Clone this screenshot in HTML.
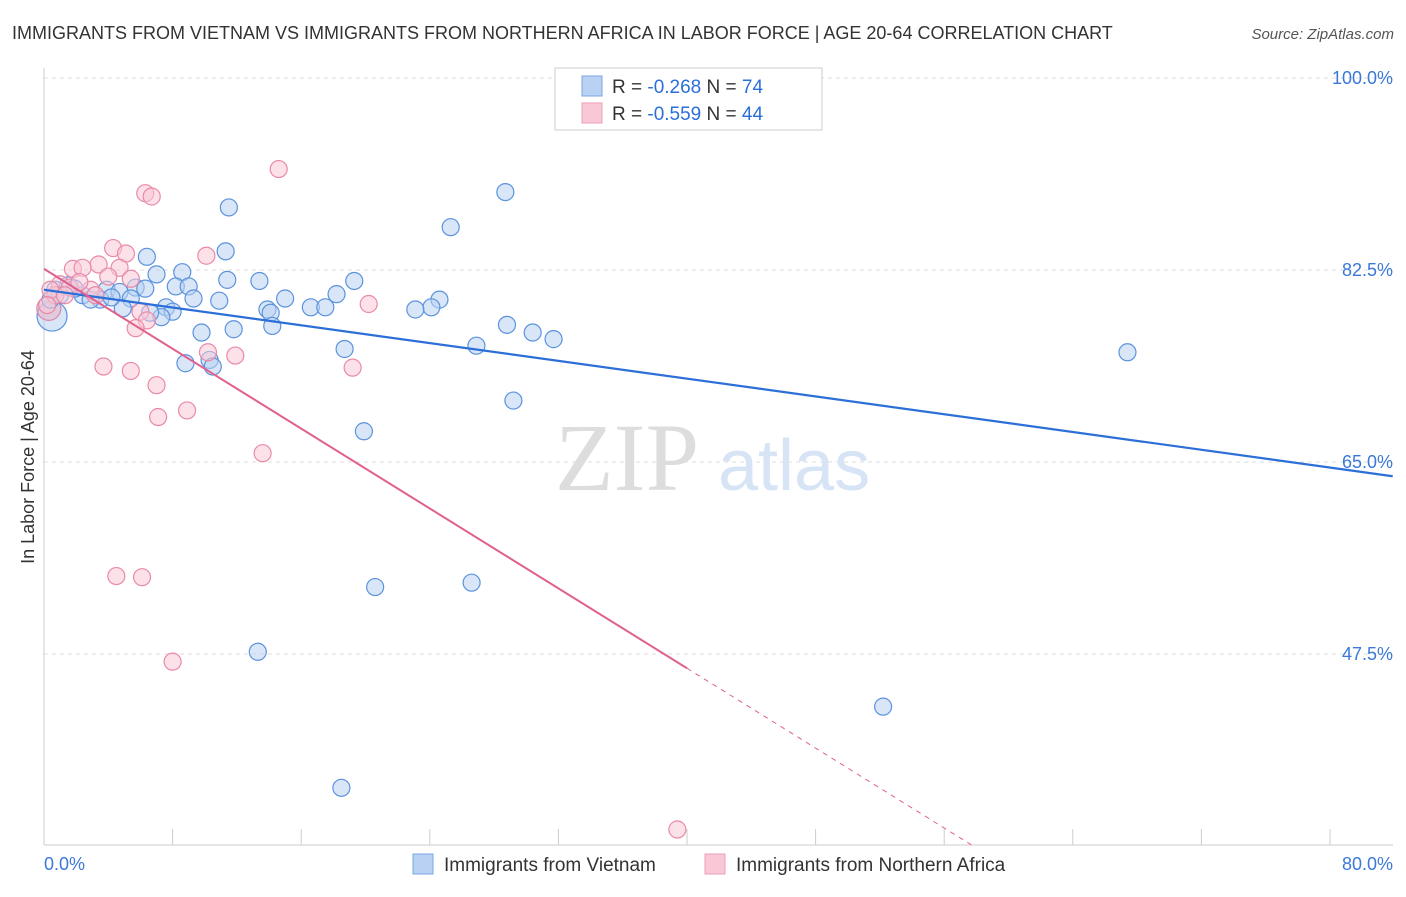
<!DOCTYPE html>
<html><head><meta charset="utf-8"><style>
body{margin:0;background:#fff;font-family:"Liberation Sans",sans-serif;}
svg text{font-family:"Liberation Sans",sans-serif;}
</style></head><body>
<svg width="1406" height="892" viewBox="0 0 1406 892">
<text x="12" y="39" font-size="18" fill="#333">IMMIGRANTS FROM VIETNAM VS IMMIGRANTS FROM NORTHERN AFRICA IN LABOR FORCE | AGE 20-64 CORRELATION CHART</text>
<text x="1394" y="39" font-size="15" fill="#555" text-anchor="end" font-style="italic">Source: ZipAtlas.com</text>
<g id="grid"></g>
<text x="555" y="490" font-size="96" fill="#ddd" font-family="Liberation Serif" style="font-family:'Liberation Serif',serif">ZIP</text>
<text x="718" y="490" font-size="72" fill="#d6e4f5">atlas</text>
<g id="axes"></g>
<g id="pts"></g>
<g id="trends"></g>
<text transform="translate(34,457) rotate(-90)" font-size="18" fill="#333" text-anchor="middle">In Labor Force | Age 20-64</text>
<g>
<rect x="555" y="68" width="267" height="62" fill="#fff" stroke="#ccc"/>
<rect x="582" y="76" width="20" height="20" fill="#b9d2f3" stroke="#7aa6e0"/>
<rect x="582" y="103" width="20" height="20" fill="#f9c8d6" stroke="#eba0b6"/>
<text x="612" y="93" font-size="19" fill="#333">R = <tspan fill="#2c6fd8">-0.268</tspan>   N = <tspan fill="#2c6fd8">74</tspan></text>
<text x="612" y="120" font-size="19" fill="#333">R = <tspan fill="#2c6fd8">-0.559</tspan>   N = <tspan fill="#2c6fd8">44</tspan></text>
</g>
<g>
<rect x="413" y="854" width="20" height="20" fill="#b9d2f3" stroke="#7aa6e0"/>
<text x="444" y="871" font-size="19" fill="#333">Immigrants from Vietnam</text>
<rect x="705" y="854" width="20" height="20" fill="#f9c8d6" stroke="#eba0b6"/>
<text x="736" y="871" font-size="19" fill="#333">Immigrants from Northern Africa</text>
</g>
</svg>
<script>
const xTicks=[0,8,16,24,32,40,48,56,64,72,80];
const yTicks=[47.5,65,82.5,100];
const yTickLabels=["47.5%","65.0%","82.5%","100.0%"];
const xEndLabels=["0.0%","80.0%"];
const vietX=[43.2,28.7,11.5,25.3,11.3,6.4,8.6,7.0,13.4,11.4,19.3,8.2,9.0,5.7,6.3,3.9,4.7,5.4,2.4,1.5,0.7,3.5,1.9,9.3,10.9,15.0,18.2,16.6,17.5,24.6,24.1,23.1,13.9,14.1,7.6,8.0,7.3,4.9,6.6,9.8,11.8,14.2,28.8,30.4,31.7,26.9,18.7,8.8,10.3,10.5,29.2,19.9,67.4,20.6,26.6,13.3,52.2,18.5,0.4,1.0,2.9,4.2];
const vietY=[99.8,89.6,88.2,86.4,84.2,83.7,82.3,82.1,81.5,81.6,81.5,81.0,81.0,80.9,80.8,80.7,80.5,79.9,80.2,81.1,80.7,79.8,80.8,79.9,79.7,79.9,80.3,79.1,79.1,79.8,79.1,78.9,78.9,78.6,79.1,78.7,78.2,79.0,78.6,76.8,77.1,77.4,77.5,76.8,76.2,75.6,75.3,74.0,74.3,73.7,70.6,67.8,75.0,53.6,54.0,47.7,42.7,35.3,79.8,80.2,79.8,80.0];
const nafX=[14.6,6.3,6.7,10.1,4.3,5.1,1.8,3.4,2.4,4.7,4.0,5.4,1.0,1.6,2.9,3.2,0.7,0.4,6.0,6.4,5.7,20.2,10.2,11.9,3.7,5.4,19.2,7.0,8.9,7.1,13.6,4.5,6.1,8.0,39.4,0.2,2.2,1.3];
const nafY=[91.7,89.5,89.2,83.8,84.5,84.0,82.6,83.0,82.7,82.7,81.9,81.7,81.2,80.9,80.7,80.2,80.2,80.7,78.7,77.9,77.2,79.4,75.0,74.7,73.7,73.3,73.6,72.0,69.7,69.1,65.8,54.6,54.5,46.8,31.5,79.3,81.4,80.2];
const bigX=[0.5,0.3], bigY=[78.3,79.0]; // large bubbles (vietnam, nafrica)
const vietTrend=[80.7,-0.2026], nafTrend=[82.6,-0.91];
const NS="http://www.w3.org/2000/svg";
const X=v=>44+v*16.075, Y=v=>78+(100-v)*10.971;
function mk(tag,attrs,parent){const e=document.createElementNS(NS,tag);for(const k in attrs)e.setAttribute(k,attrs[k]);parent.appendChild(e);return e;}
const grid=document.getElementById('grid'),axes=document.getElementById('axes'),pts=document.getElementById('pts'),tr=document.getElementById('trends');
yTicks.forEach((t,i)=>{
 const l=mk('line',{x1:44,x2:1393,y1:Y(t),y2:Y(t),stroke:'#ddd','stroke-dasharray':'4,4'},grid);
 
 
 const tx=mk('text',{x:1393,y:Y(t)+6,'font-size':18,fill:'#3b78d8','text-anchor':'end'},axes);
 tx.textContent=yTickLabels[i];
 
 
});
let a=mk('line',{x1:44,x2:44,y1:68,y2:845,stroke:'#ccc'},axes);


a=mk('line',{x1:44,x2:1393,y1:845,y2:845,stroke:'#ccc'},axes);


xTicks.forEach(t=>{const l=mk('line',{x1:X(t),x2:X(t),y1:829,y2:845,stroke:'#ccc'},axes);
 
 });
[[0,'start'],[80,'end']].forEach((p,i)=>{const tx=mk('text',{x:i?X(80)+63:X(0),y:870,'font-size':18,fill:'#3b78d8','text-anchor':p[1]},axes);tx.textContent=xEndLabels[i];
 
 });
function dot(x,y,r,fill,stroke,name){const c=mk('circle',{cx:X(x),cy:Y(y),r:r,fill:fill,'fill-opacity':0.55,stroke:stroke,'stroke-width':1.2},pts);
 
 }
dot(bigX[0],bigY[0],15,'#b9d2f3','#5b93dd','point-vietnam');
dot(bigX[1],bigY[1],12,'#e9b3c8','#d98aa8','point-nafrica');
vietX.forEach((x,i)=>dot(x,vietY[i],8.5,'#b9d2f3','#5b93dd','point-vietnam'));
nafX.forEach((x,i)=>dot(x,nafY[i],8.5,'#f9c8d6','#e98aa8','point-nafrica'));
let t=mk('line',{x1:X(0),y1:Y(vietTrend[0]),x2:X(83.9),y2:Y(vietTrend[0]+vietTrend[1]*83.9),stroke:'#2c6fd8','stroke-width':2.2},tr);


t=mk('line',{x1:X(0),y1:Y(nafTrend[0]),x2:X(40),y2:Y(nafTrend[0]+nafTrend[1]*40),stroke:'#e0608e','stroke-width':2},tr);


const xe=(nafTrend[0]-30.1)/-nafTrend[1];
t=mk('line',{x1:X(40),y1:Y(nafTrend[0]+nafTrend[1]*40),x2:X(xe),y2:Y(30.1),stroke:'#e0608e','stroke-width':1,'stroke-dasharray':'5,5'},tr);


</script>
</body></html>
